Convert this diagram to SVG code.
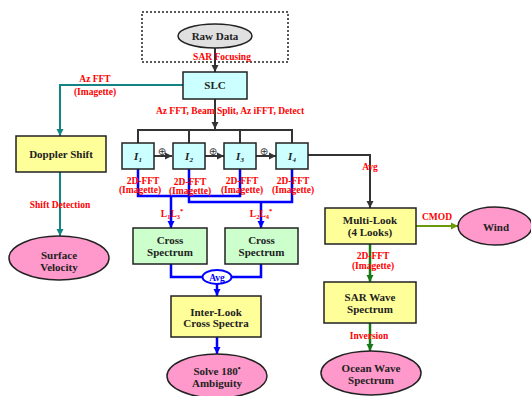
<svg xmlns="http://www.w3.org/2000/svg" width="531" height="396" viewBox="0 0 531 396">
<defs>
<style>
.box{stroke:#222;stroke-width:1.5}
.yel{fill:#FFFF99}
.cyan{fill:#CCFFFF}
.grn{fill:#CCFFCC}
.pink{fill:#FF99CC}
.t{font-family:"Liberation Serif","Times New Roman",serif;font-weight:bold;font-size:11px;fill:#222;text-anchor:middle}
.it{font-style:italic}
.lbl{font-family:"Liberation Serif","Times New Roman",serif;font-weight:bold;font-size:9.5px;fill:#FF0000;text-anchor:middle}
.dk{fill:none;stroke:#333;stroke-width:2}
.tl{fill:none;stroke:#138484;stroke-width:2}
.bl{fill:none;stroke:#0000FF;stroke-width:2.5}
.gr{fill:none;stroke:#157A15;stroke-width:2.5}
.ol{fill:none;stroke:#6A9A0A;stroke-width:2}
.op{font-family:"DejaVu Sans",sans-serif;font-size:10px;fill:#333;text-anchor:middle}
</style>
<marker id="aDk" markerUnits="userSpaceOnUse" markerWidth="8" markerHeight="8" refX="7" refY="4" orient="auto"><path d="M0,0.5 L7,4 L0,7.5 Z" fill="#333"/></marker>
<marker id="aTl" markerUnits="userSpaceOnUse" markerWidth="8" markerHeight="8" refX="7" refY="4" orient="auto"><path d="M0,0.5 L7,4 L0,7.5 Z" fill="#138484"/></marker>
<marker id="aBl" markerUnits="userSpaceOnUse" markerWidth="8" markerHeight="8" refX="7" refY="4" orient="auto"><path d="M0,0.5 L7,4 L0,7.5 Z" fill="#0000FF"/></marker>
<marker id="aGr" markerUnits="userSpaceOnUse" markerWidth="8" markerHeight="8" refX="7" refY="4" orient="auto"><path d="M0,0.5 L7,4 L0,7.5 Z" fill="#157A15"/></marker>
<marker id="aOl" markerUnits="userSpaceOnUse" markerWidth="8" markerHeight="8" refX="7" refY="4" orient="auto"><path d="M0,0.5 L7,4 L0,7.5 Z" fill="#6A9A0A"/></marker>
</defs>
<rect width="531" height="396" fill="#FFFFFF"/>

<g id="connectors">
<path class="dk" d="M215 48 V72" marker-end="url(#aDk)"/>
<path class="dk" d="M215 99 V129" marker-end="url(#aDk)"/>
<path class="dk" d="M138 143 V130 H292 V143 M189 130 V143 M240 130 V143"/>
<path class="dk" d="M154 156 H172" marker-end="url(#aDk)"/>
<path class="dk" d="M205 156 H224" marker-end="url(#aDk)"/>
<path class="dk" d="M256 156 H276" marker-end="url(#aDk)"/>
<path class="dk" d="M308 155 H370 V208" marker-end="url(#aDk)"/>
<path class="tl" d="M183 85 H60 V136" marker-end="url(#aTl)"/>
<path class="tl" d="M60 172 V236" marker-end="url(#aTl)"/>
<path class="bl" d="M138 169 V196 H240 V169"/>
<path class="bl" d="M171 196 V228" marker-end="url(#aBl)"/>
<path class="bl" d="M189 169 V202 H292 V169"/>
<path class="bl" d="M261 202 V228" marker-end="url(#aBl)"/>
<path class="bl" d="M171 264 V277 H202.5 M261 264 V277 H231.5"/>
<path class="bl" d="M217 284 V296" marker-end="url(#aBl)"/>
<path class="bl" d="M217 337 V354" marker-end="url(#aBl)"/>
<path class="ol" d="M416 226 H458" marker-end="url(#aOl)"/>
<path class="gr" d="M370 244 V282" marker-end="url(#aGr)"/>
<path class="gr" d="M370 323 V351" marker-end="url(#aGr)"/>
</g>

<g id="rawdata">
<rect x="142" y="12" width="146" height="50" fill="none" stroke="#222" stroke-width="1.5" stroke-dasharray="2,2"/>
<ellipse cx="215" cy="36" rx="37" ry="12" fill="#E0E0E0" stroke="#222" stroke-width="1.5"/>
<text class="t" x="215" y="40">Raw Data</text>
</g>
<g id="slc"><rect class="box cyan" x="183" y="72" width="64" height="27"/><text class="t" x="215" y="89">SLC</text></g>
<g id="doppler"><rect class="box yel" x="16" y="136" width="90" height="36"/><text class="t" x="61" y="158">Doppler Shift</text></g>
<g id="surface"><ellipse class="box pink" cx="59" cy="258" rx="50" ry="22"/><text class="t" x="59" y="259">Surface</text><text class="t" x="59" y="270.5">Velocity</text></g>
<g id="i1"><rect class="box cyan" x="122" y="143" width="32" height="26"/><text class="t it" x="138" y="160">I<tspan font-size="7" dy="2">1</tspan></text></g>
<g id="i2"><rect class="box cyan" x="173" y="143" width="32" height="26"/><text class="t it" x="189" y="160">I<tspan font-size="7" dy="2">2</tspan></text></g>
<g id="i3"><rect class="box cyan" x="224" y="143" width="32" height="26"/><text class="t it" x="240" y="160">I<tspan font-size="7" dy="2">3</tspan></text></g>
<g id="i4"><rect class="box cyan" x="276" y="143" width="32" height="26"/><text class="t it" x="292" y="160">I<tspan font-size="7" dy="2">4</tspan></text></g>
<g id="cross1"><rect class="box grn" x="133" y="228" width="74" height="36"/><text class="t" x="170" y="244">Cross</text><text class="t" x="170" y="256">Spectrum</text></g>
<g id="cross2"><rect class="box grn" x="225" y="228" width="73" height="36"/><text class="t" x="261.5" y="244">Cross</text><text class="t" x="261.5" y="256">Spectrum</text></g>
<g id="avg"><ellipse cx="217" cy="277" rx="14.5" ry="7" fill="#FFFFFF" stroke="#0000FF" stroke-width="2"/><text class="t" x="217" y="280.5" style="fill:#0000FF;font-size:9.5px">Avg</text></g>
<g id="interlook"><rect class="box yel" x="171" y="296" width="90" height="41"/><text class="t" x="216" y="315.5">Inter-Look</text><text class="t" x="216" y="327">Cross Spectra</text></g>
<g id="solve"><ellipse class="box pink" cx="217" cy="376" rx="50" ry="22"/><text class="t" x="217" y="375">Solve 180<tspan font-size="8" dy="-4">•</tspan></text><text class="t" x="217" y="386.5">Ambiguity</text></g>
<g id="multilook"><rect class="box yel" x="325" y="208" width="91" height="36"/><text class="t" x="370" y="224">Multi-Look</text><text class="t" x="370" y="235.5">(4 Looks)</text></g>
<g id="wind"><ellipse class="box pink" cx="495" cy="226" rx="37" ry="19"/><text class="t" x="496" y="230.5">Wind</text></g>
<g id="sarwave"><rect class="box yel" x="324" y="282" width="92" height="41"/><text class="t" x="370" y="300.5">SAR Wave</text><text class="t" x="370" y="313">Spectrum</text></g>
<g id="ocean"><ellipse class="box pink" cx="371" cy="373" rx="50" ry="22"/><text class="t" x="371" y="371.5">Ocean Wave</text><text class="t" x="371" y="383.5">Spectrum</text></g>

<g id="labels">
<text class="lbl" x="222" y="60">SAR Focusing</text>
<text class="lbl" x="95" y="81.5">Az FFT</text>
<text class="lbl" x="95" y="94.5">(Imagette)</text>
<text class="lbl" x="230" y="114">Az FFT, Beam Split, Az iFFT, Detect</text>
<text class="lbl" x="143" y="184">2D-FFT</text><text class="lbl" x="140" y="192.5">(Imagette)</text>
<text class="lbl" x="190" y="185">2D-FFT</text><text class="lbl" x="190" y="193.5">(Imagette)</text>
<text class="lbl" x="242" y="184">2D-FFT</text><text class="lbl" x="242" y="192.5">(Imagette)</text>
<text class="lbl" x="293" y="184">2D-FFT</text><text class="lbl" x="293" y="192.5">(Imagette)</text>
<text class="lbl" x="60" y="207.5">Shift Detection</text>
<text class="lbl" x="172" y="216.5">L<tspan font-size="6.5" dy="2">1</tspan><tspan dy="-2">L</tspan><tspan font-size="6.5" dy="2">3</tspan><tspan font-size="6.5" dy="-6">*</tspan></text>
<text class="lbl" x="261" y="216.5">L<tspan font-size="6.5" dy="2">2</tspan><tspan dy="-2">L</tspan><tspan font-size="6.5" dy="2">4</tspan><tspan font-size="6.5" dy="-6">*</tspan></text>
<text class="lbl" x="370" y="170">Avg</text>
<text class="lbl" x="437" y="219.5">CMOD</text>
<text class="lbl" x="373" y="258.5">2D-FFT</text>
<text class="lbl" x="373" y="268.5">(Imagette)</text>
<text class="lbl" x="369" y="338.5">Inversion</text>
<text class="op" x="162" y="154.5">⊕</text>
<text class="op" x="213" y="154.5">⊕</text>
<text class="op" x="264" y="154.5">⊕</text>
</g>
</svg>
